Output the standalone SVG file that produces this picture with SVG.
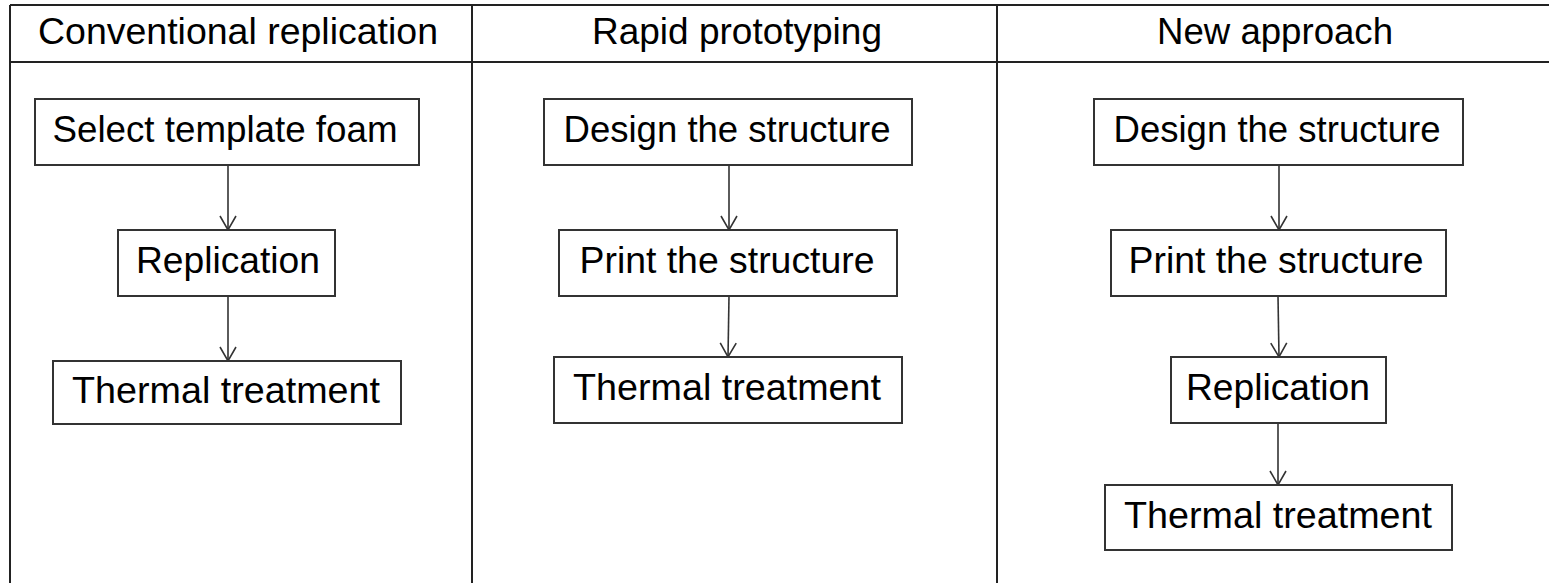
<svg xmlns="http://www.w3.org/2000/svg" width="1549" height="583" viewBox="0 0 1549 583">
  <style>
    .tbl { stroke: #222; stroke-width: 2; fill: none; }
    .box { fill: #fff; stroke: #333; stroke-width: 2; }
    .lbl { font-family: "Liberation Sans", Arial, sans-serif; font-size: 36px; fill: #000; text-anchor: middle; }
    .conn { stroke: #333; stroke-width: 1.6; fill: none; marker-end: url(#arr); }
  </style>
  <defs>
    <marker id="arr" viewBox="-16 -10 18 20" refX="0" refY="0" markerWidth="18" markerHeight="20" markerUnits="userSpaceOnUse" orient="auto">
      <path d="M-14,-8 L0,0 L-14,8" fill="none" stroke="#333" stroke-width="1.6"/>
    </marker>
  </defs>
  <rect x="0" y="0" width="1549" height="583" fill="#fff"/>

  <g id="table">
    <line class="tbl" x1="10" y1="5" x2="1549" y2="5"/>
    <line class="tbl" x1="10" y1="62" x2="1549" y2="62"/>
    <line class="tbl" x1="10" y1="5" x2="10" y2="583"/>
    <line class="tbl" x1="472" y1="5" x2="472" y2="583"/>
    <line class="tbl" x1="997" y1="5" x2="997" y2="583"/>
    <text class="lbl" x="238" y="44" textLength="400" lengthAdjust="spacingAndGlyphs">Conventional replication</text>
    <text class="lbl" x="737" y="44" textLength="290" lengthAdjust="spacingAndGlyphs">Rapid prototyping</text>
    <text class="lbl" x="1275" y="44" textLength="236" lengthAdjust="spacingAndGlyphs">New approach</text>
  </g>

  <g id="connectors">
    <line class="conn" x1="228" y1="165" x2="228" y2="230"/>
    <line class="conn" x1="228" y1="296" x2="228" y2="361"/>
    <line class="conn" x1="729" y1="165" x2="729" y2="230"/>
    <line class="conn" x1="729" y1="296" x2="728" y2="357"/>
    <line class="conn" x1="1279" y1="165" x2="1279" y2="230"/>
    <line class="conn" x1="1278" y1="296" x2="1279" y2="357"/>
    <line class="conn" x1="1278" y1="423" x2="1278" y2="485"/>
  </g>

  <g id="c1-select">
    <rect class="box" x="35" y="99" width="384" height="66"/>
    <text class="lbl" x="225" y="142" textLength="345" lengthAdjust="spacingAndGlyphs">Select template foam</text>
  </g>
  <g id="c1-replication">
    <rect class="box" x="118" y="230" width="217" height="66"/>
    <text class="lbl" x="228" y="273" textLength="184" lengthAdjust="spacingAndGlyphs">Replication</text>
  </g>
  <g id="c1-thermal">
    <rect class="box" x="53" y="361" width="348" height="63"/>
    <text class="lbl" x="226" y="403" textLength="308" lengthAdjust="spacingAndGlyphs">Thermal treatment</text>
  </g>

  <g id="c2-design">
    <rect class="box" x="544" y="99" width="368" height="66"/>
    <text class="lbl" x="727" y="142" textLength="327" lengthAdjust="spacingAndGlyphs">Design the structure</text>
  </g>
  <g id="c2-print">
    <rect class="box" x="559" y="230" width="338" height="66"/>
    <text class="lbl" x="727" y="273" textLength="295" lengthAdjust="spacingAndGlyphs">Print the structure</text>
  </g>
  <g id="c2-thermal">
    <rect class="box" x="554" y="357" width="348" height="66"/>
    <text class="lbl" x="727" y="400" textLength="308" lengthAdjust="spacingAndGlyphs">Thermal treatment</text>
  </g>

  <g id="c3-design">
    <rect class="box" x="1094" y="99" width="369" height="66"/>
    <text class="lbl" x="1277" y="142" textLength="327" lengthAdjust="spacingAndGlyphs">Design the structure</text>
  </g>
  <g id="c3-print">
    <rect class="box" x="1111" y="230" width="335" height="66"/>
    <text class="lbl" x="1276" y="273" textLength="295" lengthAdjust="spacingAndGlyphs">Print the structure</text>
  </g>
  <g id="c3-replication">
    <rect class="box" x="1171" y="357" width="215" height="66"/>
    <text class="lbl" x="1278" y="400" textLength="184" lengthAdjust="spacingAndGlyphs">Replication</text>
  </g>
  <g id="c3-thermal">
    <rect class="box" x="1105" y="485" width="347" height="65"/>
    <text class="lbl" x="1278" y="528" textLength="308" lengthAdjust="spacingAndGlyphs">Thermal treatment</text>
  </g>
</svg>
